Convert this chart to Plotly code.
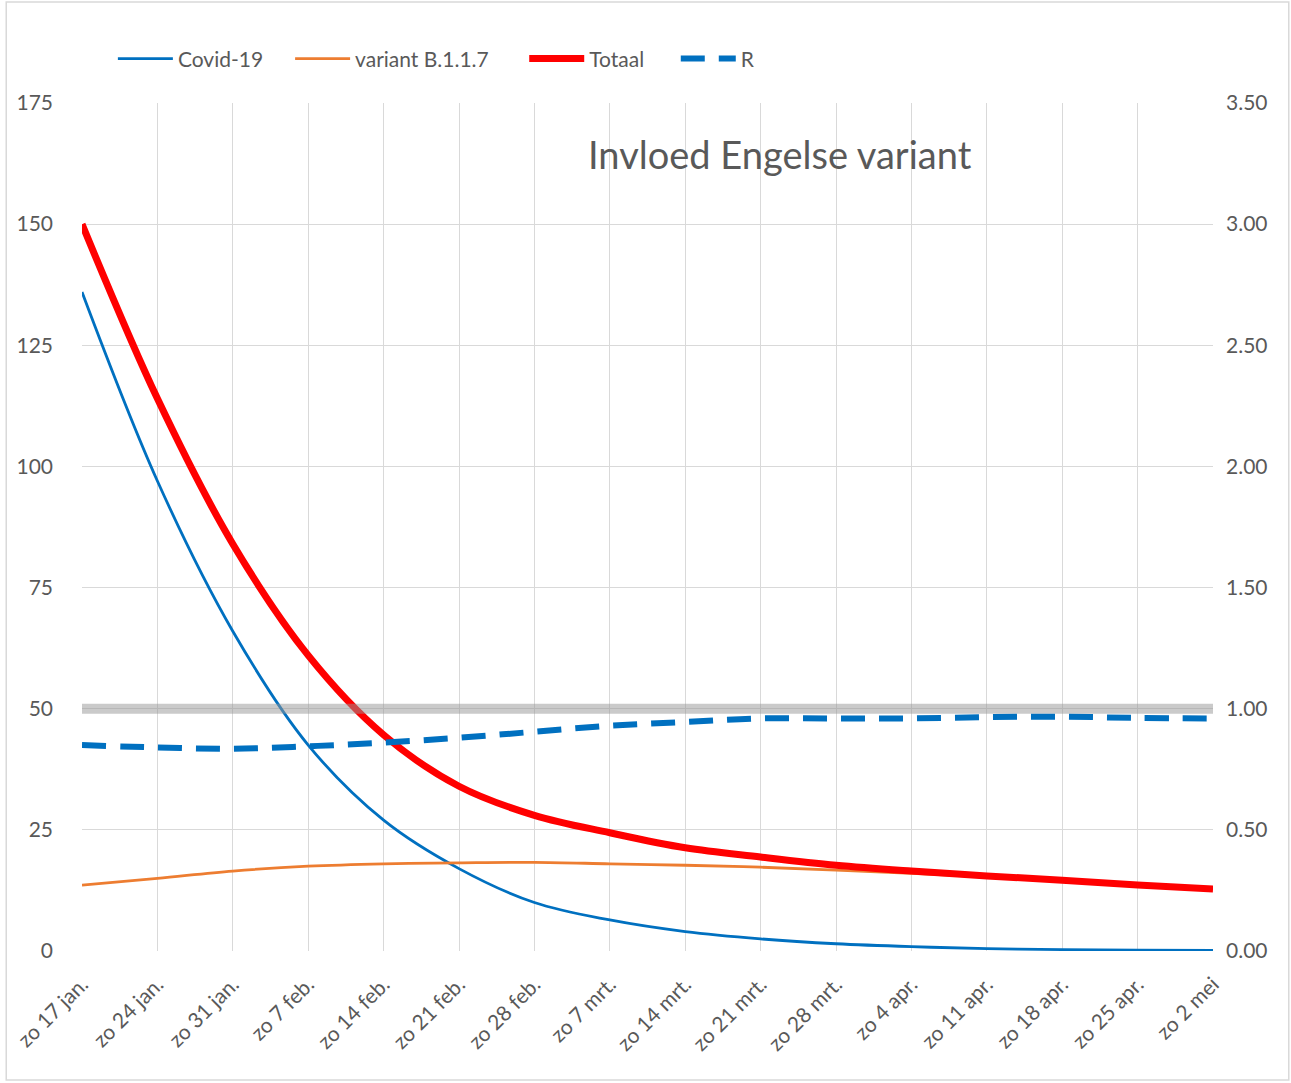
import plotly.graph_objects as go

# weekly readings (day index from zo 17 jan.)
days = [0, 7, 14, 21, 28, 35, 42, 49, 56, 63, 70, 77, 84, 91, 98, 105]
tick_labels = ["zo 17 jan.", "zo 24 jan.", "zo 31 jan.", "zo 7 feb.", "zo 14 feb.",
               "zo 21 feb.", "zo 28 feb.", "zo 7 mrt.", "zo 14 mrt.", "zo 21 mrt.",
               "zo 28 mrt.", "zo 4 apr.", "zo 11 apr.", "zo 18 apr.", "zo 25 apr.", "zo 2 mei"]
covid = [136, 97, 66, 42.5, 27, 17, 10, 6.4, 4.0, 2.5, 1.5, 0.9, 0.5, 0.3, 0.2, 0.1]
variant = [13.6, 15.0, 16.5, 17.5, 18.0, 18.2, 18.3, 18.0, 17.7, 17.3, 16.7, 16.0, 15.3, 14.6, 13.8, 12.8]
totaal = [150, 114, 84, 61, 44.6, 34, 28, 24.4, 21.3, 19.4, 17.7, 16.5, 15.5, 14.6, 13.6, 12.8]
r_values = [0.85, 0.84, 0.835, 0.845, 0.86, 0.88, 0.905, 0.93, 0.945, 0.96, 0.96, 0.96, 0.965, 0.967, 0.962, 0.96]
r_ref = [1.0, 1.0]

FONT = "Lato"
GREY = "#595959"

fig = go.Figure()
fig.add_trace(go.Scatter(x=[days[0], days[-1]], y=r_ref, yaxis="y2", mode="lines",
                         line=dict(color="rgba(150,150,150,0.5)", width=10),
                         showlegend=False, hoverinfo="skip"))
fig.add_trace(go.Scatter(x=days, y=covid, name="Covid-19", mode="lines", legend="legend",
                         line=dict(color="#0070C0", width=2.8, shape="spline")))
fig.add_trace(go.Scatter(x=days, y=variant, name="variant B.1.1.7", mode="lines", legend="legend2",
                         line=dict(color="#ED7D31", width=2.8, shape="spline")))
fig.add_trace(go.Scatter(x=days, y=totaal, name="Totaal", mode="lines", legend="legend3",
                         line=dict(color="#FF0000", width=7, shape="spline")))
fig.add_trace(go.Scatter(x=days, y=r_values, name="R", mode="lines", yaxis="y2", legend="legend4",
                         line=dict(color="#0070C0", width=6, dash="24px,14px", shape="spline")))

def leg(xp):
    return dict(orientation="h", x=xp, y=1.052, xanchor="left", yanchor="middle",
                font=dict(size=21, color=GREY, family=FONT), bgcolor="rgba(0,0,0,0)",
                itemwidth=55)

fig.update_layout(
    width=1291, height=1083,
    margin=dict(l=78, r=78, t=103, b=132),
    paper_bgcolor="white", plot_bgcolor="white",
    font=dict(family=FONT, size=21, color=GREY),
    showlegend=True,
    legend=leg(0.0273), legend2=leg(0.184), legend3=leg(0.391), legend4=leg(0.525),
    xaxis=dict(range=[0, 105], tickvals=days, ticktext=tick_labels, tickangle=-45,
               showgrid=True, gridcolor="#D9D9D9", gridwidth=1,
               showline=False, zeroline=False, ticks="", tickfont=dict(size=21),
               ticklabelstandoff=16),
    yaxis=dict(range=[0, 175], tickvals=[0, 25, 50, 75, 100, 125, 150, 175],
               showgrid=True, gridcolor="#D9D9D9", gridwidth=1, zeroline=False,
               showline=False, ticks="", ticklabelstandoff=28),
    yaxis2=dict(range=[0, 3.5], tickvals=[0, 0.5, 1, 1.5, 2, 2.5, 3, 3.5], tickformat=".2f",
                overlaying="y", side="right", showgrid=False, zeroline=False,
                showline=False, ticks="", ticklabelstandoff=12),
    annotations=[dict(text="Invloed Engelse variant", xref="paper", yref="paper",
                      x=0.617, y=0.94, xanchor="center", yanchor="middle",
                      showarrow=False, font=dict(size=38, color=GREY, family=FONT))],
    shapes=[dict(type="rect", xref="paper", yref="paper",
                 x0=-0.067, x1=1.067, y0=-0.152, y1=1.119,
                 line=dict(color="#D9D9D9", width=1.5), layer="below")],
)

fig.write_html("out.html")
